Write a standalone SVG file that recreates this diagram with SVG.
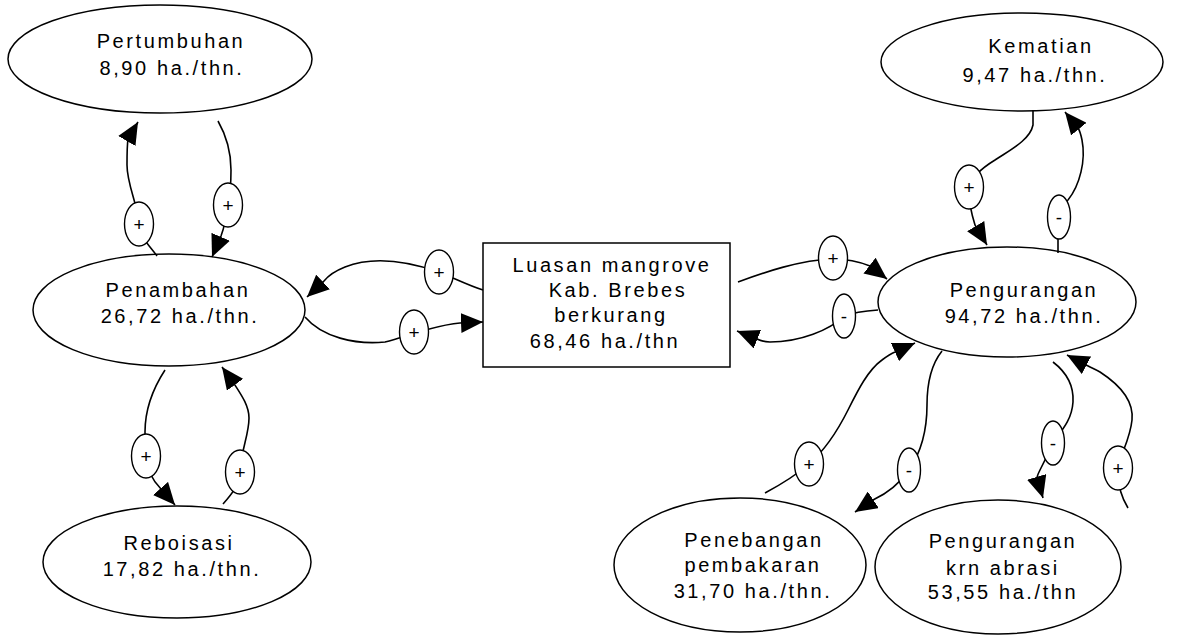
<svg xmlns="http://www.w3.org/2000/svg" width="1186" height="636" viewBox="0 0 1186 636">
<style>
.node{fill:#fff;stroke:#000;stroke-width:1.5}
.t{font-family:"Liberation Sans",Arial,sans-serif;font-size:20px;letter-spacing:2.6px;fill:#000;text-anchor:middle}
.c{fill:none;stroke:#000;stroke-width:1.6;marker-end:url(#ah)}
.lb{fill:#fff;stroke:#000;stroke-width:1.4}
.lt{font-family:"Liberation Sans",Arial,sans-serif;font-size:19px;fill:#000;text-anchor:middle}
</style>
<defs>
<marker id="ah" markerUnits="userSpaceOnUse" viewBox="0 0 22 20" refX="22" refY="10" markerWidth="22" markerHeight="20" orient="auto">
<path d="M0,0 L22,10 L0,20 z" fill="#000"/>
</marker>
</defs>
<rect width="1186" height="636" fill="#fff"/>

<g id="pertumbuhan">
<ellipse class="node" cx="160" cy="59" rx="152" ry="54"/>
<text class="t" x="171" y="48">Pertumbuhan</text>
<text class="t" x="172" y="75">8,90 ha./thn.</text>
</g>
<g id="penambahan">
<ellipse class="node" cx="169" cy="310" rx="136" ry="56"/>
<text class="t" x="178" y="297">Penambahan</text>
<text class="t" x="180" y="323">26,72 ha./thn.</text>
</g>
<g id="reboisasi">
<ellipse class="node" cx="177" cy="562" rx="134" ry="56"/>
<text class="t" x="179" y="550">Reboisasi</text>
<text class="t" x="182" y="576">17,82 ha./thn.</text>
</g>
<g id="luasan">
<rect class="node" x="483" y="243" width="247" height="124"/>
<text class="t" x="612" y="272">Luasan mangrove</text>
<text class="t" x="618" y="297">Kab. Brebes</text>
<text class="t" x="611" y="322">berkurang</text>
<text class="t" x="605" y="348">68,46 ha./thn</text>
</g>
<g id="kematian">
<ellipse class="node" cx="1022" cy="62" rx="141" ry="49"/>
<text class="t" x="1041" y="53">Kematian</text>
<text class="t" x="1035" y="82">9,47 ha./thn.</text>
</g>
<g id="pengurangan">
<ellipse class="node" cx="1007" cy="302" rx="129" ry="55"/>
<text class="t" x="1024" y="297">Pengurangan</text>
<text class="t" x="1024" y="323">94,72 ha./thn.</text>
</g>
<g id="penebangan">
<ellipse class="node" cx="740" cy="565" rx="126" ry="67"/>
<text class="t" x="754" y="547">Penebangan</text>
<text class="t" x="753" y="572">pembakaran</text>
<text class="t" x="753" y="598">31,70 ha./thn.</text>
</g>
<g id="abrasi">
<ellipse class="node" cx="998" cy="567" rx="123" ry="67"/>
<text class="t" x="1003" y="548">Pengurangan</text>
<text class="t" x="1003" y="575">krn abrasi</text>
<text class="t" x="1003" y="599">53,55 ha./thn</text>
</g>

<g id="connectors">
<path class="c" d="M157,256 C150,246 140,238 139,224 C138,205 127,185 127,165 C127,152 127,146 128,139 L138,122"/>
<path class="c" d="M218,121 C226,135 231,150 231,170 C231,185 230,195 228,205 C226,220 224,228 221,236 L212,257"/>
<path class="c" d="M483,290 C470,286 458,280 439,272 C410,262 375,255 345,267 C335,271 328,276 324,281 L307,297"/>
<path class="c" d="M305,317 C322,337 355,345 385,342 C395,340 405,336 414,333 C430,329 445,324 460,323 L483,322"/>
<path class="c" d="M165,370 C152,390 145,410 145,432 C145,445 146,450 146,456 C147,470 152,480 161,489 L175,505"/>
<path class="c" d="M223,504 C232,494 239,485 240,472 C241,450 249,435 249,418 C249,405 240,393 233,382 L222,367"/>
<path class="c" d="M738,282 C765,272 800,260 833,259 C850,259 860,262 870,266 L887,279"/>
<path class="c" d="M878,310 C865,311 855,312 844,316 C830,330 800,342 770,342 C765,342 761,341 757,339 L737,331"/>
<path class="c" d="M1033,110 L1033,125 C1030,140 1010,150 995,160 C982,168 972,176 969,187 C968,200 971,212 975,225 L987,245"/>
<path class="c" d="M1058,253 L1058,239 C1058,215 1062,205 1068,200 C1080,185 1086,160 1082,140 C1081,135 1080,131 1078,128 L1065,112"/>
<path class="c" d="M765,493 C780,485 795,476 809,464 C825,450 838,430 848,410 C858,390 868,370 882,360 C886,357 890,354 895,352 L915,343"/>
<path class="c" d="M942,351 C930,366 927,385 927,405 C927,425 924,448 909,470 C900,483 888,493 873,500 L855,512"/>
<path class="c" d="M1053,362 C1066,372 1074,385 1073,402 C1072,418 1064,428 1055,440 C1050,450 1044,462 1040,470 C1038,474 1037,476 1037,478 L1043,498"/>
<path class="c" d="M1128,508 C1122,498 1118,488 1118,468 C1120,455 1130,440 1132,420 C1134,400 1120,385 1100,372 C1095,369 1090,367 1086,365 L1067,355"/>

<g id="labels">
<ellipse class="lb" cx="139" cy="224" rx="14.5" ry="22"/><text class="lt" x="139" y="231">+</text>
<ellipse class="lb" cx="228" cy="205" rx="14.5" ry="22"/><text class="lt" x="228" y="212">+</text>
<ellipse class="lb" cx="439" cy="272" rx="14.5" ry="22"/><text class="lt" x="439" y="279">+</text>
<ellipse class="lb" cx="414" cy="332" rx="14.5" ry="22"/><text class="lt" x="414" y="339">+</text>
<ellipse class="lb" cx="146" cy="456" rx="14.5" ry="22"/><text class="lt" x="146" y="463">+</text>
<ellipse class="lb" cx="240" cy="472" rx="14.5" ry="22"/><text class="lt" x="240" y="479">+</text>
<ellipse class="lb" cx="833" cy="258" rx="14.5" ry="22"/><text class="lt" x="833" y="265">+</text>
<ellipse class="lb" cx="844" cy="316" rx="11.5" ry="22"/><text class="lt" x="844" y="323">-</text>
<ellipse class="lb" cx="969" cy="187" rx="14.5" ry="22"/><text class="lt" x="969" y="194">+</text>
<ellipse class="lb" cx="1059" cy="217" rx="11.5" ry="22"/><text class="lt" x="1059" y="224">-</text>
<ellipse class="lb" cx="809" cy="464" rx="14.5" ry="22"/><text class="lt" x="809" y="471">+</text>
<ellipse class="lb" cx="909" cy="470" rx="11.5" ry="22"/><text class="lt" x="909" y="477">-</text>
<ellipse class="lb" cx="1053" cy="443" rx="11.5" ry="22"/><text class="lt" x="1053" y="450">-</text>
<ellipse class="lb" cx="1118" cy="468" rx="14.5" ry="22"/><text class="lt" x="1118" y="475">+</text>
</g>
</g>
</svg>
